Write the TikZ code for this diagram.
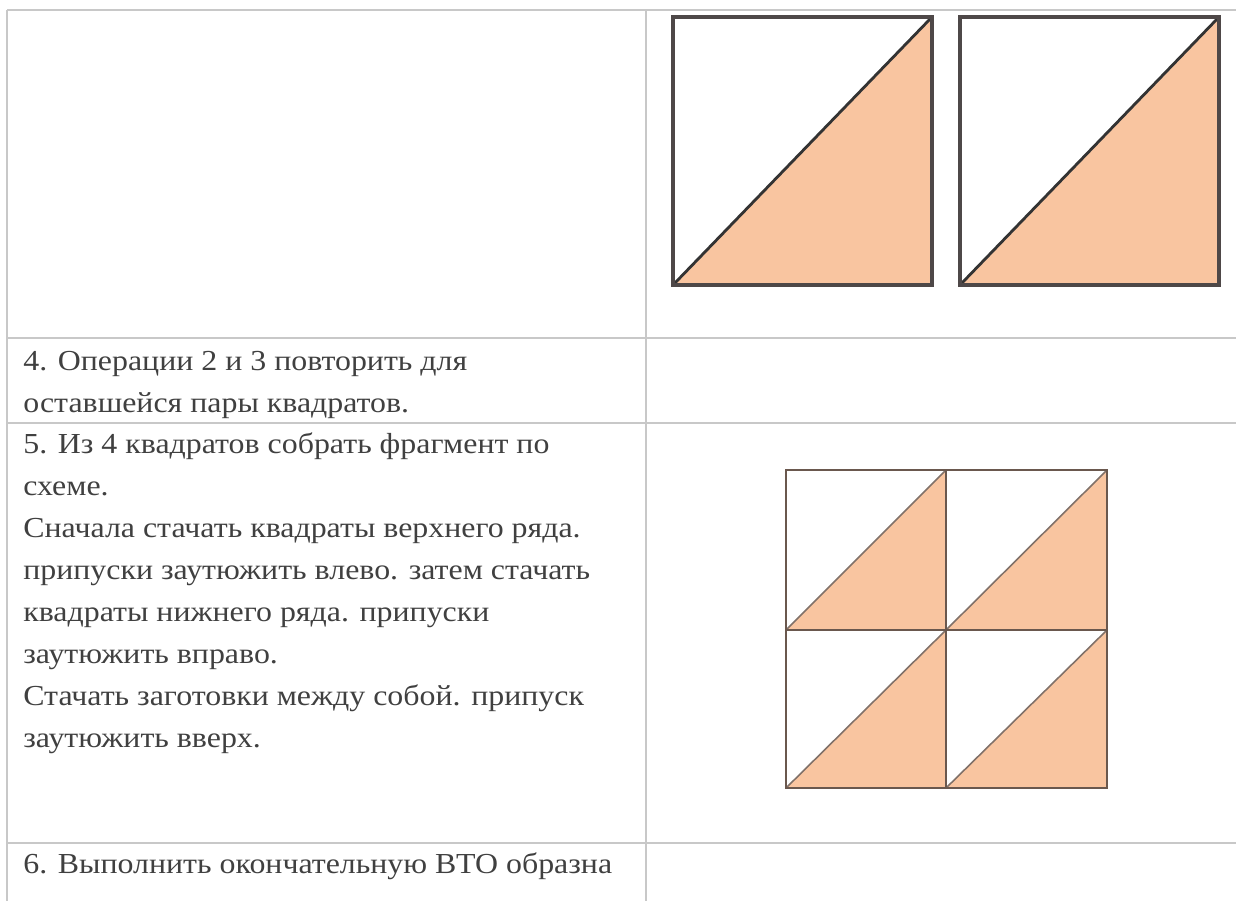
\documentclass[tikz,border=0pt]{standalone}
\usepackage{fontspec}
\setmainfont[FakeStretch=1.1]{Liberation Serif}
\usetikzlibrary{positioning}

\definecolor{peach}{RGB}{249,197,160}
\definecolor{rulegray}{RGB}{200,200,200}
\definecolor{edgedark}{RGB}{78,72,72}
\definecolor{edgebrown}{RGB}{106,88,78}

\begin{document}
\begin{tikzpicture}[
        x=0.02cm, y=-0.02cm,
        rule/.style={draw=rulegray, line width=0.9pt},
        bigpatch/.style={draw=edgedark, line width=2.2pt},
        bigseam/.style={draw=black!80, line width=1.6pt},
        smallpatch/.style={draw=edgebrown, line width=1.4pt},
        smallseam/.style={draw=edgebrown!85, line width=0.9pt},
        celltext/.style={anchor=north west, inner sep=0pt, align=left, text=black!75,
            font=\fontsize{16.5}{23.9}\selectfont}
    ]
        \useasboundingbox (0,0) rectangle (1236,901);

        % Table rules
        \draw[rule] (7,10) -- (1236,10);
        \draw[rule] (7,10) -- (7,901);
        \draw[rule] (646,10) -- (646,901);
        \foreach \y in {338, 423, 843}
            \draw[rule] (7,\y) -- (1236,\y);

        % Row 1: two half-square triangles
        \foreach \x in {673, 960} {
            \fill[peach] (\x,285) -- (\x+259,17) -- (\x+259,285) -- cycle;
            \draw[bigseam] (\x,285) -- (\x+259,17);
            \draw[bigpatch] (\x,17) rectangle (\x+259,285);
        }

        % Row 2
        \node[celltext] (repeat) at (23,351) {4. Операции 2 и 3 повторить для\\
            оставшейся пары квадратов.};

        % Row 3
        \node[celltext] (assemble) at (23,432) {5. Из 4 квадратов собрать фрагмент по\\
            схеме.\\
            Сначала стачать квадраты верхнего ряда.\\
            припуски заутюжить влево. затем стачать\\
            квадраты нижнего ряда. припуски\\
            заутюжить вправо.\\
            Стачать заготовки между собой. припуск\\
            заутюжить вверх.};

        % Row 3: block of four squares
        \foreach \x/\xx in {786/946, 946/1107}
            \foreach \y/\yy in {470/630, 630/788} {
                \fill[peach] (\x,\yy) -- (\xx,\y) -- (\xx,\yy) -- cycle;
                \draw[smallseam] (\x,\yy) -- (\xx,\y);
            }
        \draw[smallpatch] (786,470) rectangle (1107,788);
        \draw[smallpatch] (946,470) -- (946,788);
        \draw[smallpatch] (786,630) -- (1107,630);

        % Row 4
        \node[celltext] (press) at (23,852) {6. Выполнить окончательную ВТО образна};

    \end{tikzpicture}
\end{document}
